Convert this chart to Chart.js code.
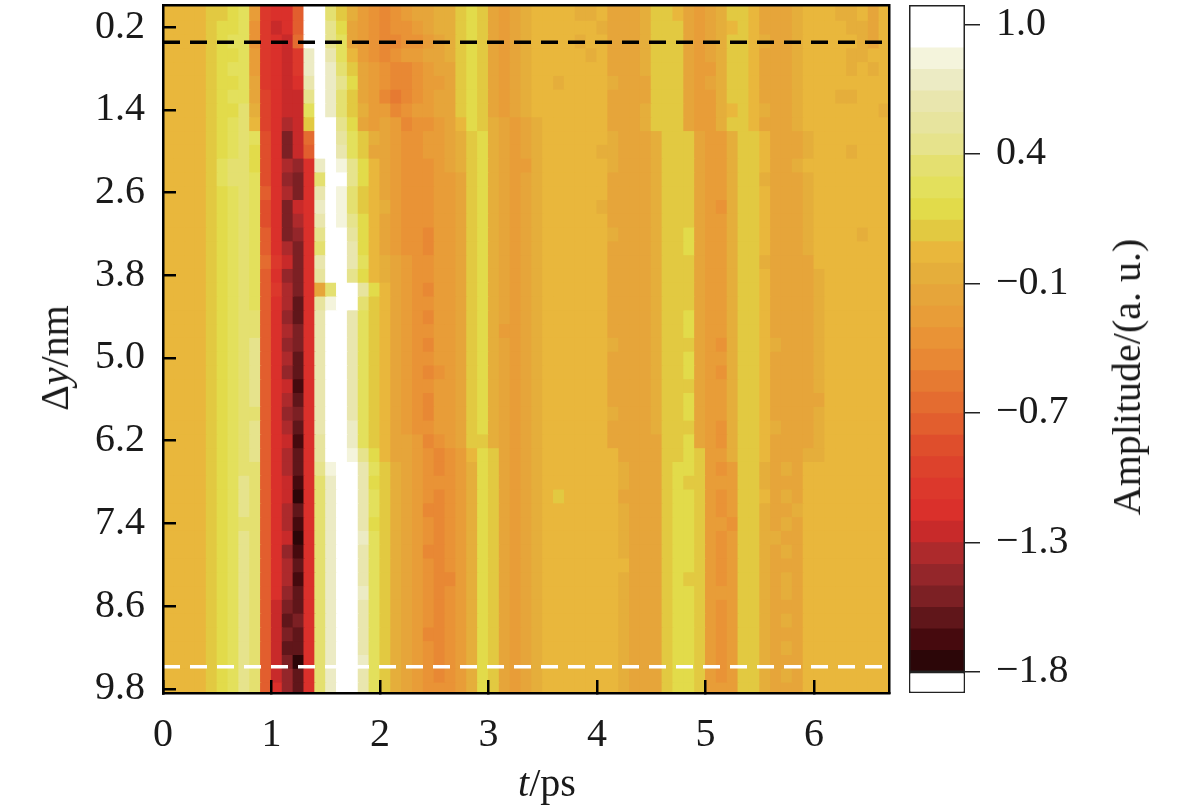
<!DOCTYPE html>
<html><head><meta charset="utf-8">
<script src="https://cdn.jsdelivr.net/npm/chart.js@4.4.1/dist/chart.umd.min.js"></script>
<style>
html,body{margin:0;padding:0;background:#fff;}
#wrap{position:relative;width:1181px;height:811px;overflow:hidden;font-family:"Liberation Serif","Times New Roman",serif;color:#1a1a1a;}
#main{position:absolute;left:0;top:0;width:900px;height:811px;}
#cbar{position:absolute;left:900px;top:0;width:281px;height:811px;}
.t{position:absolute;white-space:nowrap;font-size:40px;line-height:1;transform:translate(-50%,-50%);}
#ylab{left:55px;top:358px;transform:translate(-50%,-50%) rotate(-90deg);}
#xlab{left:547px;top:783px;}
#clab{left:1127px;top:377px;transform:translate(-50%,-50%) rotate(-90deg);}
</style></head><body>
<div id="wrap">
<canvas id="main" width="900" height="811"></canvas>
<canvas id="cbar" width="281" height="811"></canvas>
<div class="t" id="ylab">Δ<i>y</i>/nm</div>
<div class="t" id="xlab"><i>t</i>/ps</div>
<div class="t" id="clab">Amplitude/(a. u.)</div>
</div>
<script>
// ---------- data ----------
const timesPs = Array.from({length: 67}, (_, i) => +(0.05 + 0.1 * i).toFixed(2));   // column centres (ps)
const deltaYNm = Array.from({length: 50}, (_, i) => +(0.2 * i).toFixed(1));          // row centres (nm)
const xTickValues = [0, 1, 2, 3, 4, 5, 6];
const yTickValues = [0.2, 1.4, 2.6, 3.8, 5.0, 6.2, 7.4, 8.6, 9.8];
const refLineBlack = 0.42;
const refLineWhite = 9.48;
const cbarTickValues = [1.0, 0.44, -0.12, -0.68, -1.24, -1.8];
const cbarTickLabels = ['1.0', '0.4', '\u22120.1', '\u22120.7', '\u22121.3', '\u22121.8'];
const ampMin = -1.8, ampMax = 1.084, underMin = -1.891;
// colour bands of the colour bar, bottom (most negative) to top
const bandColors = [
 '#2c0608','#460a0e','#60161a','#7c2024','#94262a','#ad2a2c','#c82a2a','#da302b','#dc382c','#dd422c',
 '#df4e2c','#e25e2e','#e46c30','#e67a32','#e88834','#e99336','#e89d38','#e6a53a','#e5ae3b','#e9b73c',
 '#e2c941','#e2db4a','#e3e05c','#e4e070','#e6e38c','#e7e49e','#e9e6ae','#ecebc4','#f4f4dc','#ffffff','#ffffff'];
// each character = colour-bar level of one cell (0 = lowest band ... u = top band)
const levelChars = '0123456789abcdefghijklmnopqrstu';
const amplitudeRows = [
 "jjjj kklmg 877bu tnkigf efghhiik lkhghij jjjiijhhhi kkjhghikkj hhhijjjiijhj",
 "jjjj kllmf 867bu tolhgf effghiik lkhghij jjjjjihhhi kkkhghijkj hhhijjjjiihj",
 "jjjj klmmf 876cu tomhgf eeffghik lkhghij jjjijjhhhi kkkhghikkj ihhijjjjjihj",
 "jjjj kllmg 8768r uqmjgf efgghhik lkhghij jjjjijhhhi kkkhghikkj hhhijjjjiijj",
 "jjjj klmmg 8768r urnkhg feefghhk lkhghij jjjjjjhhhi kkkhggikkj hhhijjjjijij",
 "jjjj kllmh 8767q urolhg feefgghk lkhghij jijjjjihhh kkkhghikkj hhhijjjjjjjj",
 "jjjj klmmh 9766o urnkhg edefghhk lkhghij jjjjjjhhhh kkkhggikkj hhhijjjiijjj",
 "jjjj kllni 9766m urnkig gefgghhk lkhghij jjjjjjhhhi kkkhggijkj ihhijjjjjjji",
 "jjjj klmnj 9756k utolhg hgeffghj lkihghi jjjjjjhhhi kkkhggikkj hhhijjjjjjjj",
 "jjjj klmnm a736c utpmki hgffgghi klihghi jjjjjjihhh ikkkhggikk jhhhijjjjjjj",
 "jjjj klmnl a736b utqmkh hgffgghi klihghi jjjjjiihhh ikkkhggikk jhhhijjjijjj",
 "jjjj kmnnl a7547 rusolj hgfffghi klihggi jjjjjjihhh ikkkhggikk jhhijjjjjjjj",
 "jjjj kmnnm a7437 nutolj hgfffggh klihghi jjjjjjhhhh ikkkhggikk ihhhijjjjjjj",
 "jjjj klmnm b7537 qusnkj hgfffggh klihghi jjjjjjhhhh ikkkhggikk jhhhijjjjjjj",
 "jjjj klmnm a7367 rusnkj igfffggh klihghi jjjjjihhhh ikkkhgfikk jhhhijjjjjjj",
 "jjjj klmnm a7357 qusolj hgfffggh klihghi jjjjjjhhhh ikkkhggikk jhhhijjjjjjj",
 "jjjj klmnm b7347 outplj hgffeggh klihghi jjjjjjihhh ikklhggikk jhhhijjjjijj",
 "jjjj klmnm b7537 nutqlj hgffeggh klihghi jjjjjjhhhh ikklhggikk jhhhijjjjjjj",
 "jjjj klmnm c8637 qutqmj ihgffggh klihghi jjjjjjhhhh ikkkhggikk ihhhhjjjjjjj",
 "jjjj klmnm b7437 putolj ihgffggh klihghi jjjjjjhhhh ikkkhggikk jhhhhijjjjjj",
 "jjjj klmnm b8537 hnutpl jhgfeggh klihghi jjjjjjhhhh ikkkhggikk jhhhhijjjjjj",
 "jjjj klmnm b7527 psutnk jhgffggh klihghi jjjjjjhhhh ikkkhggikk jhhhhijjjjjj",
 "jjjj klmnn b7427 qutqmk jhgfeggh klihghi jjjjjjhhhh ikklhggikk jhhhhijjjjjj",
 "jjjj klmnn b7537 qutqmk jhgffggh kligghi jjjjjjhhhh ikklhggikk jhhhhijjjjjj",
 "jjjj klmno b7437 qutqmk jhgfeggh klihghi jjjjjjihhh ikkkhgfikk jihhhijjjjjj",
 "jjjj klmno b7527 qutqmk jhgffggh klihghi jjjjjjhhhh ikklhggikk jhhhhijjjjjj",
 "jjjj klmno b7427 qutqmk jhgfefgh klihghi jjjjjjhhhh ikklhgfikk jhhhhijjjjjj",
 "jjjj klmno b7617 qutqmk jhgffggh klihghi jjjjjjhhhh ikkkhggikk jhhhhijjjjjj",
 "jjjj klmno b7527 quuqmk jhgfeggh klihghi jjjjjjhhhh ikklhggikk jhhhhhjjjjjj",
 "jjjj klmnn b7437 qutqmk jhgfeggh klihghi jjjjjjihhh ikklhggikk jhhhhijjjjjj",
 "jjjj klmno b7527 qutrmk jhgffggh klihghi jjjjjjhhhh ikkkhgfikk jihhhijjjjjj",
 "jjjj klmno b7617 pturmk jhhgefgh kkihghi jjjjjjhhhh hkklhgfikk jhhhhijjjjjj",
 "jjjj klmno b7527 ptusol jhhgfefg jlkhghi jjjjjjjhhh hkklkggikk jhhhiijjjjjj",
 "jjjj klmnn b7527 osuuqm kihgfefg ilkhghi jjjjjjjihh hkllkgfgkk ihihjjjjjjjj",
 "jjjj klmon b7617 nruuql kihgfffg ilkhghi jjjjjjjihh hklkkgggkk ihhhjjjjjjjj",
 "jjjj klmon b7607 nruuqm kihgfefg ilkhghi jkjjjjjhhh hkllkgfgkk jhihjjjjjjjj",
 "jjjj klmon b7527 nruuqm kihgeefg ilkhghi jjjjjjjihh hkllkgfgkk ihhijjjjjjjj",
 "jjjj klmnn b7517 nruuql kihgfefg ilkhghi jjjjjjjihh hkllkggfkk ihihjjjjjjjj",
 "jjjj klmon b7607 nruurm kihgfefg ilkhghi jjjjjjjihh hkllkgfgkk iihhjjjjjjjj",
 "jjjj klmon b7417 nruuqm kihgeefg ilkhghi jjjjjjjihh hkllkgfgkk ihihjjjjjjjj",
 "jjjj klmon b7527 nruuqm kihgfefg ilkhghi jjjjjjjjhh hkllkgfgkk ihhhjjjjjjjj",
 "jjjj klmon b7517 nruuqm kihgfeeg ilkhghi jjjjjjjihh hklkkgfgkk ihihjjjjjjjj",
 "jjjj klmon b7427 nruurm kihgfefg ilkhghi jjjjjjjihh hkllkgggkk ihihjjjjjjjj",
 "jjjj klmon b6327 nruuqm kihgfefg ilkhghi jjjjjjjihh hkllkgfgkk ihhhjjjjjjjj",
 "jjjj klmon b6237 nruuqm kihgfefg ilkhghi jjjjjjjihh hkllkgfgkk ihihjjjjjjjj",
 "jjjj klmon b6327 nrtuqm kihgeefg ilkhghi jjjjjjjihh hkllkgfgkk ihhhjjjjjjjj",
 "jjjj klmon b6227 nruuqm kihgfefg ilkhghi jjjjjjjihh hkllkgfgkk ihihjjjjjjjj",
 "jjjj klmon b6307 nruurm kihgfefg ilkhghi jjjjjjjihh hkllkgfgkk ihhhjjjjjjjj",
 "jjjj klmon b6427 nruuqm kihgfefg ilkhghi jjjjjjjihh hkllkgfgkk ihihjjjjjjjj",
 "jjjj klmon b7427 nruuqm kihgfffg ilkhghi jjjjjjjihh hkllkgggkk ihhhjjjjjjjj"
];

// ---------- helpers ----------
const nBands = bandColors.length;
const bandStep = (ampMax - ampMin) / nBands;
function levelToAmp(ch) { const k = Math.max(0, levelChars.indexOf(ch)); return ampMin + (k + 0.5) * bandStep; }
function ampToColor(a) { let k = Math.floor((a - ampMin) / bandStep); k = Math.min(nBands - 1, Math.max(0, k)); return bandColors[k]; }
const amplitudeGrid = amplitudeRows.map(s => { s = s.replace(/\s+/g, ''); return timesPs.map((t, c) => levelToAmp(s[c] || 'j')); });
const halfRow = 0.1;

const FONT = {family: "'Liberation Serif','Times New Roman',serif", size: 40};
const INK = '#1a1a1a';
const noPad = s => { s.paddingTop = 0; s.paddingBottom = 0; s.paddingLeft = 0; s.paddingRight = 0; };

const heatDatasets = deltaYNm.map((dy, r) => ({
  type: 'bar', xAxisID: 'x', yAxisID: 'y',
  data: timesPs.map((t, c) => ({x: t, y: [dy - halfRow, dy + halfRow]})),
  backgroundColor: amplitudeGrid[r].map(ampToColor),
  borderWidth: 0, grouped: false, barPercentage: 1, categoryPercentage: 1, inflateAmount: 0.6, order: 1
}));
const lineSets = [
  {type: 'line', xAxisID: 'x', yAxisID: 'y', data: [{x: 0, y: refLineBlack}, {x: 6.69, y: refLineBlack}],
   borderColor: '#000', borderWidth: 3.5, borderDash: [17, 10], pointRadius: 0, fill: false, order: -1},
  {type: 'line', xAxisID: 'x', yAxisID: 'y', data: [{x: 0, y: refLineWhite}, {x: 6.69, y: refLineWhite}],
   borderColor: '#fff', borderWidth: 3.5, borderDash: [17, 10], pointRadius: 0, fill: false, order: -1}
];

new Chart(document.getElementById('main'), {
  type: 'bar',
  data: {datasets: heatDatasets.concat(lineSets)},
  options: {
    responsive: false, animation: false, devicePixelRatio: 1,
    layout: {padding: {top: 5, right: 11, left: 0, bottom: 0}},
    plugins: {legend: {display: false}, tooltip: {enabled: false}},
    scales: {
      x: {type: 'linear', position: 'bottom', min: 0, max: 6.69, offset: false,
        afterBuildTicks: s => { s.ticks = xTickValues.map(v => ({value: v})); },
        ticks: {font: FONT, color: INK, padding: 31, maxRotation: 0, autoSkip: false, callback: v => String(v)},
        grid: {display: true, offset: false, drawOnChartArea: false, drawTicks: true, tickLength: -13, color: '#000', lineWidth: 2.5, z: 2},
        border: {display: true, color: '#000', width: 2.5, z: 2},
        afterFit: s => { s.height = 118; noPad(s); }},
      y: {type: 'linear', position: 'left', reverse: true, min: -0.12, max: 9.86,
        afterBuildTicks: s => { s.ticks = yTickValues.map(v => ({value: v})); },
        ticks: {font: FONT, color: INK, padding: 31, autoSkip: false, callback: v => Number(v).toFixed(1)},
        grid: {display: true, drawOnChartArea: false, drawTicks: true, tickLength: -13, color: '#000', lineWidth: 2.5, z: 2},
        border: {display: true, color: '#000', width: 2.5, z: 2},
        afterFit: s => { s.width = 163; noPad(s); }},
      xTop: {type: 'linear', position: 'top', min: 0, max: 6.69, offset: false,
        ticks: {display: false}, grid: {display: false},
        border: {display: true, color: '#000', width: 2.5, z: 2},
        afterFit: s => { s.height = 0; noPad(s); }},
      yRight: {type: 'linear', position: 'right', min: -0.12, max: 9.86,
        ticks: {display: false}, grid: {display: false},
        border: {display: true, color: '#000', width: 2.5, z: 2},
        afterFit: s => { s.width = 0; noPad(s); }}
    }
  }
});

// ---------- colour bar ----------
const bandSets = bandColors.map((col, k) => ({
  data: [[ampMin + k * bandStep, ampMin + (k + 1) * bandStep]],
  backgroundColor: col, borderWidth: 0, grouped: false, barPercentage: 1, categoryPercentage: 1, inflateAmount: 0.5, order: 1
}));
bandSets.push({data: [[underMin, ampMin]], backgroundColor: '#ffffff', borderColor: '#222', borderWidth: 1.5,
  borderSkipped: false, grouped: false, barPercentage: 1, categoryPercentage: 1, inflateAmount: 0, order: 0});
bandSets.push({data: [[ampMin, ampMax]], backgroundColor: 'rgba(0,0,0,0)', borderColor: '#222', borderWidth: 1.5,
  borderSkipped: false, grouped: false, barPercentage: 1, categoryPercentage: 1, inflateAmount: 0, order: -1});

new Chart(document.getElementById('cbar'), {
  type: 'bar',
  data: {labels: ['Amplitude'], datasets: bandSets},
  options: {
    responsive: false, animation: false, devicePixelRatio: 1,
    layout: {padding: {top: 5, left: 9, right: 0, bottom: 118}},
    plugins: {legend: {display: false}, tooltip: {enabled: false}},
    scales: {
      x: {type: 'category', display: false},
      y: {type: 'linear', position: 'right', min: underMin, max: ampMax,
        afterBuildTicks: s => { s.ticks = cbarTickValues.slice().sort((a, b) => a - b).map(v => ({value: v})); },
        ticks: {font: FONT, color: INK, padding: 16, autoSkip: false,
          callback: v => cbarTickLabels[cbarTickValues.indexOf(v)]},
        grid: {display: true, drawOnChartArea: false, drawTicks: true, tickLength: 15, color: '#222', lineWidth: 1.5},
        border: {display: false},
        afterFit: s => { s.width = 216; noPad(s); }}
    }
  }
});
</script>
</body></html>
